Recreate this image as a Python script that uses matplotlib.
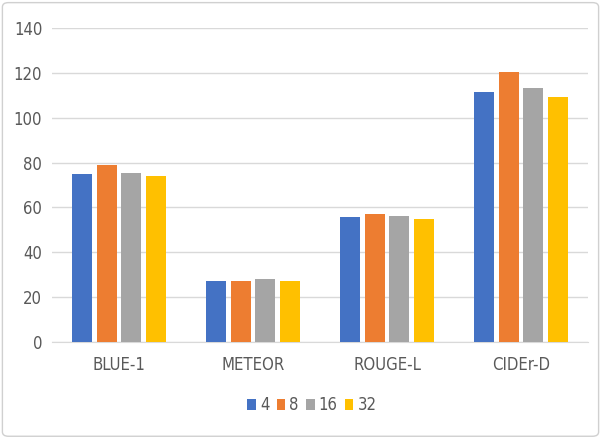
import numpy as np
from matplotlib import pyplot as plt
from matplotlib.patches import FancyBboxPatch

categories = ["BLUE-1", "METEOR", "ROUGE-L", "CIDEr-D"]
series_names = ["4", "8", "16", "32"]
values_4 = [74.8, 27.3, 55.6, 111.3]
values_8 = [79.0, 27.3, 56.9, 120.4]
values_16 = [75.3, 27.9, 56.3, 113.2]
values_32 = [74.0, 27.3, 54.8, 109.1]
colors = ["#4472C4", "#ED7D31", "#A5A5A5", "#FFC000"]

text_color = "#595959"
grid_color = "#D9D9D9"
plt.rcParams["font.family"] = ["DejaVu Sans"]
plt.rcParams["font.stretch"] = "condensed"

fig = plt.figure(figsize=(6.01, 4.38), dpi=100)
ax = fig.add_axes([0.0865, 0.219, 0.892, 0.717])

x = np.arange(len(categories))
width = 0.148
step = 0.183
all_values = [values_4, values_8, values_16, values_32]
for i, (name, vals, color) in enumerate(zip(series_names, all_values, colors)):
    offset = (i - 1.5) * step
    ax.bar(x + offset, vals, width, label=name, color=color, zorder=3)

ax.set_xlim(-0.5, len(categories) - 0.5)
ax.set_ylim(0, 140)
ax.set_yticks(range(0, 141, 20))
ax.set_xticks(x)
ax.set_xticklabels(categories)
ax.grid(axis="y", color=grid_color, linewidth=1, zorder=0)
for side in ["top", "left", "right"]:
    ax.spines[side].set_visible(False)
ax.spines["bottom"].set_color(grid_color)
ax.tick_params(axis="both", length=0, colors=text_color, labelsize=12)
ax.tick_params(axis="x", pad=10)
ax.tick_params(axis="y", pad=7)

ax.legend(loc="upper center", bbox_to_anchor=(0.485, -0.125), ncol=4, frameon=False,
          fontsize=12, labelcolor=text_color, handlelength=0.5, handleheight=0.7,
          handletextpad=0.25, columnspacing=0.45)

border = FancyBboxPatch((0.004, 0.004), 0.992, 0.99, boxstyle="round,pad=0,rounding_size=0.01",
                        transform=fig.transFigure, fill=False, edgecolor="#D0D0D0", linewidth=1)
fig.patches.append(border)

fig.savefig("out.png", dpi=100)
plt.close(fig)
